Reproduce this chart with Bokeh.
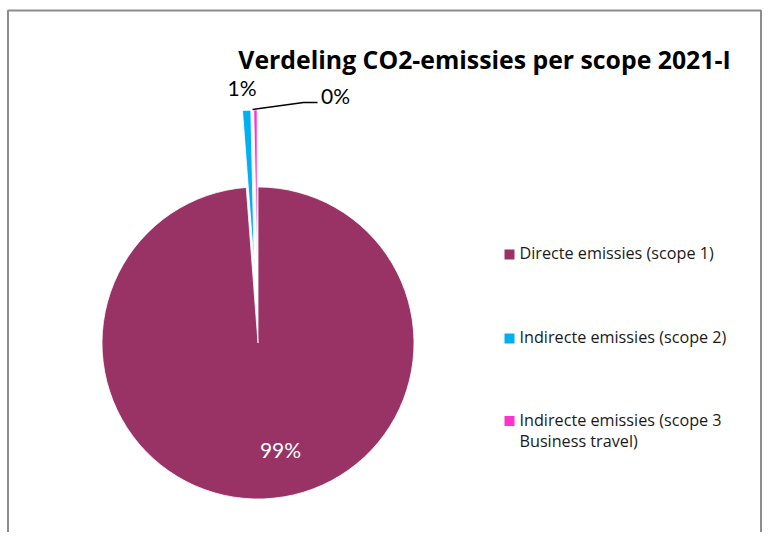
import math
from bokeh.plotting import figure
from bokeh.models import Range1d
from bokeh.core.properties import value
from bokeh.embed import file_html
from bokeh.resources import INLINE

# ---- data ----
title_text = "Verdeling CO2-emissies per scope 2021-I"
categories = ["Directe emissies (scope 1)", "Indirecte emissies (scope 2)", "Indirecte emissies (scope 3\nBusiness travel)"]
shares = [98.8, 0.85, 0.35]
colors = ["#993366", "#00B0F0", "#FF33CC"]
exploded = [False, True, True]

W, H = 762, 532

p = figure(width=W, height=H, x_range=Range1d(0, W), y_range=Range1d(0, H),
           output_backend="svg", toolbar_location=None, min_border=0)
p.axis.visible = False
p.grid.visible = False
p.outline_line_color = None
p.background_fill_color = "white"
p.border_fill_color = "white"


def Y(v):
    # layout helper: screen-like vertical position (from top) -> data y
    return H - v


# frame (open at bottom, like the cut-off chart area)
frame_col = "#8c8c8c"
p.line([7.5, 7.5, 760.5, 760.5], [Y(560), Y(10), Y(10), Y(560)], line_color=frame_col, line_width=2)

# pie geometry (layout)
cx, cy, r = 257.5, Y(342.5), 156
explode_dist = 77

total = sum(shares)
cum = 0.0
for i, (s, c) in enumerate(zip(shares, colors)):
    a = cum / total
    b = (cum + s) / total
    cum += s
    start = math.radians(90 - b * 360)
    end = math.radians(90 - a * 360)
    mid = (start + end) / 2
    ox, oy = cx, cy
    if exploded[i]:
        ox += explode_dist * math.cos(mid)
        oy += explode_dist * math.sin(mid)
    p.wedge(x=ox, y=oy, radius=r, start_angle=start, end_angle=end,
            fill_color=c, line_color="white", line_width=0.8)

# data labels
pct = [f"{round(s / total * 100)}%" for s in shares]
label_pos = [(280, Y(449), "center", "white"), (241.5, Y(86.5), "center", "black"), (320.5, Y(94.5), "left", "black")]
for txt, (lx, ly, al, col) in zip(pct, label_pos):
    p.text(x=[lx], y=[ly], text=[txt], text_font=value("Lato"), text_font_size="21px",
           text_align=al, text_baseline="middle", text_color=col)

# leader line for the smallest slice
p.line([252, 303, 317], [Y(109), Y(102), Y(102)], line_color="black", line_width=1.4)

# title
p.text(x=[484], y=[Y(58)], text=[title_text], text_font=value("Open Sans"), text_font_size="24.8px",
       text_font_style="bold", text_align="center", text_baseline="alphabetic", text_color="black")

# legend
leg_y = [254, 338, 420.5]
for name, c, ly in zip(categories, colors, leg_y):
    p.rect(x=[509], y=[Y(ly)], width=10, height=10, fill_color=c, line_color=None)
    for k, ln in enumerate(name.split("\n")):
        p.text(x=[519], y=[Y(ly - 1.5 + k * 21.5)], text=[ln], text_font=value("Open Sans"), text_font_size="16.2px",
               text_align="left", text_baseline="middle", text_color="#1a1a1a")

open("out.html", "w").write(file_html(p, INLINE))
